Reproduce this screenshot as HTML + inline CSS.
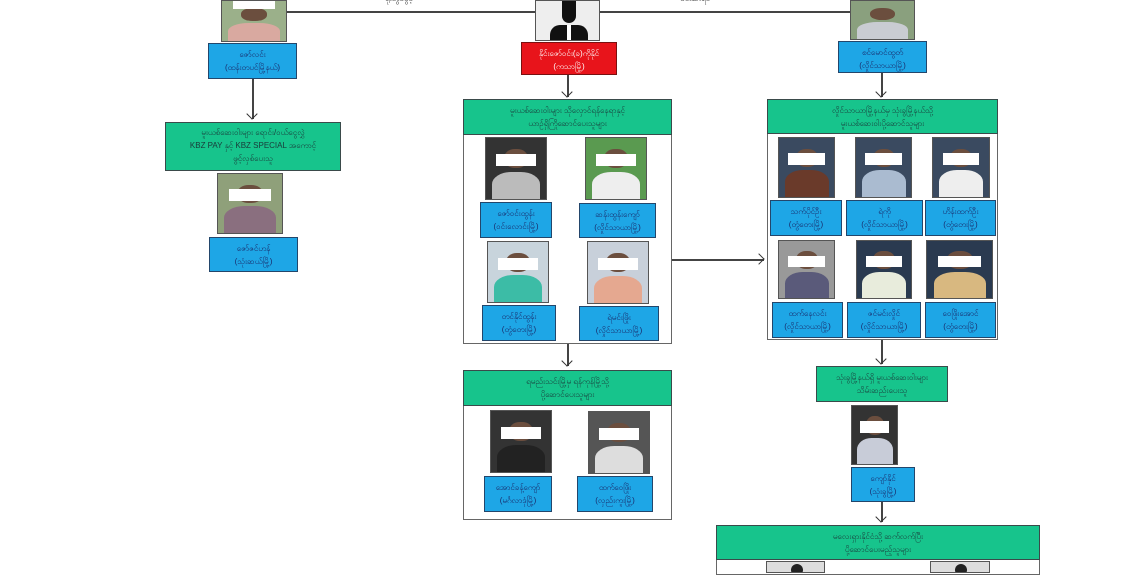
<!DOCTYPE html>
<html><head><meta charset="utf-8"><style>
body{margin:0;width:1140px;height:570px;background:#fff;position:relative;overflow:hidden;font-family:"Liberation Sans",sans-serif}
div{position:absolute;box-sizing:border-box}
.b{background:#1ea6e6;border:1.5px solid #23466b;color:#1a2a6a;font-size:8px;text-align:center;line-height:13px;padding-top:4px}
.r{background:#e8141b;border:1.5px solid #7a1010;color:#fff;font-size:8px;text-align:center;line-height:13px;padding-top:4px}
.g{background:#17c48c;border:1.5px solid #3a4a4a;color:#1a3a3a;font-size:8px;text-align:center;line-height:13px;padding-top:4px}
.c{border:1.5px solid #666;background:#fff}
.p{border:1px solid #555;overflow:hidden}
.p .f{left:30%;top:18%;width:40%;height:32%;border-radius:45%;background:#6b4e3e}
.p .s{left:10%;top:55%;width:80%;height:50%;border-radius:40% 40% 0 0}
.p .w{left:17%;top:26%;width:66%;height:20%;background:#fff}
.h{height:1.5px;background:#444}
.v{width:1.5px;background:#444}
.ar{width:8px;height:8px;border-right:1.5px solid #333;border-bottom:1.5px solid #333;transform:rotate(45deg)}
.arr{width:8px;height:8px;border-right:1.5px solid #333;border-bottom:1.5px solid #333;transform:rotate(-45deg)}
</style></head><body>

<!-- top lines -->
<div class="h" style="left:287px;top:11px;width:250px"></div>
<div class="h" style="left:600px;top:11px;width:250px"></div>
<div style="left:385px;top:-7px;font-size:8px;color:#333">ရုံးတွင်ဖွင့်</div>
<div style="left:680px;top:-7px;font-size:8px;color:#333">ဖမ်းဆီးရမိ</div>

<!-- top left -->
<div class="p" style="left:221px;top:0;width:66px;height:42px;background:#9bb08a"><div class="f"></div><div class="s" style="background:#d9a9a0"></div><div class="w" style="top:0;height:20%"></div></div>
<div class="b" style="left:208px;top:43px;width:89px;height:36px">ဇော်လင်း<br>(ထန်းတပင်မြို့နယ်)</div>
<div class="v" style="left:252px;top:79px;height:40px"></div>
<div class="ar" style="left:248px;top:110px"></div>
<div class="g" style="left:165px;top:122px;width:176px;height:49px;padding-top:3px">မူးယစ်ဆေးဝါးများ ရောင်း/ဝယ်ငွေလွှဲ<br>KBZ PAY နှင့် KBZ SPECIAL အကောင့်<br>ဖွင့်လှစ်ပေးသူ</div>
<div class="p" style="left:217px;top:173px;width:66px;height:61px;background:#8fa07a"><div class="f"></div><div class="s" style="background:#8a6f7f"></div><div class="w"></div></div>
<div class="b" style="left:209px;top:237px;width:89px;height:35px">ဇော်ဇင်ဟန်<br>(သုံးဆယ်မြို့)</div>

<!-- center top -->
<div class="p" style="left:535px;top:0;width:65px;height:41px;background:#eee"><div style="left:26px;top:0;width:14px;height:22px;background:#111;border-radius:0 0 7px 7px"></div><div style="left:14px;top:24px;width:38px;height:20px;background:#111;border-radius:10px 10px 0 0"></div><div style="left:31px;top:24px;width:4px;height:17px;background:#fff"></div></div>
<div class="r" style="left:521px;top:42px;width:96px;height:33px">နိုင်းဇော်ဝင်း(ခ)ကိုနိုင်<br>(ကသာမြို့)</div>
<div class="v" style="left:567px;top:75px;height:22px"></div>
<div class="ar" style="left:563px;top:88px"></div>

<!-- right top -->
<div class="p" style="left:850px;top:0;width:65px;height:40px;background:#8aa07e"><div class="f"></div><div class="s" style="background:#c9ccd2"></div></div>
<div class="b" style="left:838px;top:41px;width:89px;height:32px">စင်မောင်ထွတ်<br>(လှိုင်သာယာမြို့)</div>
<div class="v" style="left:881px;top:73px;height:24px"></div>
<div class="ar" style="left:877px;top:88px"></div>

<!-- center container 1 -->
<div class="c" style="left:463px;top:99px;width:209px;height:245px"></div>
<div class="g" style="left:463px;top:99px;width:209px;height:36px">မူးယစ်ဆေးဝါးများ သိုလှောင်ရန်နေရာနှင့်<br>ယာဉ်ရှိကြိုဆောင်ပေးသူများ</div>
<div class="p" style="left:485px;top:137px;width:62px;height:63px;background:#333"><div class="f"></div><div class="s" style="background:#bbb"></div><div class="w"></div></div>
<div class="p" style="left:585px;top:137px;width:62px;height:63px;background:#5a9a50"><div class="f"></div><div class="s" style="background:#eee"></div><div class="w"></div></div>
<div class="b" style="left:480px;top:202px;width:72px;height:36px">ဇော်ဝင်းထွန်း<br>(ဝင်းလောင်းမြို့)</div>
<div class="b" style="left:579px;top:203px;width:77px;height:35px">ဆန်းထွန်းကျော်<br>(လှိုင်သာယာမြို့)</div>
<div class="p" style="left:487px;top:241px;width:62px;height:62px;background:#c8d4dc"><div class="f"></div><div class="s" style="background:#3cbca6"></div><div class="w"></div></div>
<div class="p" style="left:587px;top:241px;width:62px;height:63px;background:#c8d0da"><div class="f"></div><div class="s" style="background:#e5a890"></div><div class="w"></div></div>
<div class="b" style="left:482px;top:305px;width:74px;height:36px">တင်နိုင်ထွန်း<br>(တွံတေးမြို့)</div>
<div class="b" style="left:579px;top:306px;width:80px;height:35px">ရဲမင်းဖြိုး<br>(လှိုင်သာယာမြို့)</div>

<!-- arrow to right -->
<div class="h" style="left:672px;top:259px;width:92px"></div>
<div class="arr" style="left:755px;top:255px"></div>

<!-- center container 2 -->
<div class="v" style="left:567px;top:344px;height:22px"></div>
<div class="ar" style="left:563px;top:357px"></div>
<div class="c" style="left:463px;top:370px;width:209px;height:150px"></div>
<div class="g" style="left:463px;top:370px;width:209px;height:36px">ရမည်းသင်းမြို့မှ ရန်ကုန်မြို့သို့<br>ပို့ဆောင်ပေးသူများ</div>
<div class="p" style="left:490px;top:410px;width:62px;height:63px;background:#333"><div class="f"></div><div class="s" style="background:#222"></div><div class="w"></div></div>
<div class="p" style="left:588px;top:411px;width:62px;height:63px;background:#555"><div class="f"></div><div class="s" style="background:#ddd"></div><div class="w"></div></div>
<div class="b" style="left:484px;top:476px;width:68px;height:36px">အောင်ခန့်ကျော်<br>(မင်္ဂလာဒုံမြို့)</div>
<div class="b" style="left:577px;top:476px;width:76px;height:36px">ထက်ဝေဖြိုး<br>(လှည်းကူးမြို့)</div>

<!-- right container -->
<div class="c" style="left:767px;top:99px;width:231px;height:241px"></div>
<div class="g" style="left:767px;top:99px;width:231px;height:35px">လှိုင်သာယာမြို့နယ်မှ သုံးခွမြို့နယ်သို့<br>မူးယစ်ဆေးဝါးပို့ဆောင်သူများ</div>
<div class="p" style="left:778px;top:137px;width:57px;height:61px;background:#3a4a60"><div class="f"></div><div class="s" style="background:#6a3a2a"></div><div class="w"></div></div>
<div class="p" style="left:855px;top:137px;width:57px;height:61px;background:#3a4a60"><div class="f"></div><div class="s" style="background:#aabbd0"></div><div class="w"></div></div>
<div class="p" style="left:932px;top:137px;width:58px;height:61px;background:#3a4a60"><div class="f"></div><div class="s" style="background:#eee"></div><div class="w"></div></div>
<div class="b" style="left:770px;top:200px;width:72px;height:36px">သက်ပိုင်ဦး<br>(တွံတေးမြို့)</div>
<div class="b" style="left:846px;top:200px;width:77px;height:36px">ရဲကို<br>(လှိုင်သာယာမြို့)</div>
<div class="b" style="left:925px;top:200px;width:71px;height:36px">ဟိန်းထက်ဦး<br>(တွံတေးမြို့)</div>
<div class="p" style="left:778px;top:240px;width:57px;height:59px;background:#999"><div class="f"></div><div class="s" style="background:#5a5a7a"></div><div class="w"></div></div>
<div class="p" style="left:856px;top:240px;width:56px;height:59px;background:#2a3a50"><div class="f"></div><div class="s" style="background:#e8ecdc"></div><div class="w"></div></div>
<div class="p" style="left:926px;top:240px;width:67px;height:59px;background:#2a3a50"><div class="f"></div><div class="s" style="background:#d8b880"></div><div class="w"></div></div>
<div class="b" style="left:772px;top:302px;width:71px;height:36px">ထက်နေလင်း<br>(လှိုင်သာယာမြို့)</div>
<div class="b" style="left:847px;top:302px;width:74px;height:36px">ဇင်မင်းလှိုင်<br>(လှိုင်သာယာမြို့)</div>
<div class="b" style="left:925px;top:302px;width:71px;height:36px">ဝေဖြိုးအောင်<br>(တွံတေးမြို့)</div>

<div class="v" style="left:881px;top:340px;height:24px"></div>
<div class="ar" style="left:877px;top:355px"></div>
<div class="g" style="left:816px;top:366px;width:132px;height:36px">သုံးခွမြို့နယ်ရှိ မူးယစ်ဆေးဝါးများ<br>သိမ်းဆည်းပေးသူ</div>
<div class="p" style="left:851px;top:405px;width:47px;height:60px;background:#333"><div class="f"></div><div class="s" style="background:#c8ccd8"></div><div class="w"></div></div>
<div class="b" style="left:851px;top:467px;width:64px;height:35px">ကျော်နိုင်<br>(သုံးခွမြို့)</div>
<div class="v" style="left:881px;top:502px;height:20px"></div>
<div class="ar" style="left:877px;top:513px"></div>
<div class="c" style="left:716px;top:525px;width:324px;height:50px"></div>
<div class="g" style="left:716px;top:525px;width:324px;height:35px">မလေးရှားနိုင်ငံသို့ ဆက်လက်ပြီး<br>ပို့ဆောင်ပေးမည့်သူများ</div>
<div class="p" style="left:766px;top:561px;width:59px;height:12px;background:#ddd"><div style="left:24px;top:2px;width:12px;height:12px;border-radius:50%;background:#222"></div></div>
<div class="p" style="left:930px;top:561px;width:60px;height:12px;background:#ddd"><div style="left:24px;top:2px;width:12px;height:12px;border-radius:50%;background:#222"></div></div>
</body></html>
